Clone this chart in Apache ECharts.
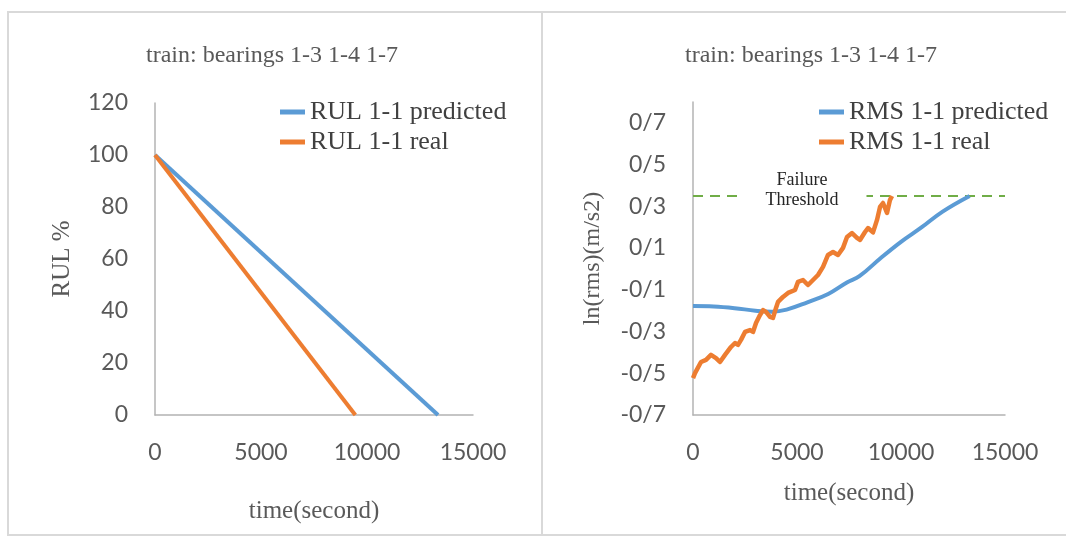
<!DOCTYPE html>
<html>
<head>
<meta charset="utf-8">
<title>Bearing RUL and RMS</title>
<script src="https://cdn.jsdelivr.net/npm/echarts@6/dist/echarts.min.js"></script>
<style>
  html, body { margin: 0; padding: 0; background: #ffffff; }
  #chart { width: 1066px; height: 541px; }
</style>
</head>
<body>
<div id="chart"></div>
<script>
// Titles and legend names
const panelTitle = 'train: bearings 1-3 1-4 1-7';
const rulNames = ['RUL 1-1 predicted', 'RUL 1-1 real'];
const rmsNames = ['RMS 1-1 predicted', 'RMS 1-1 real'];

// Remaining useful life (%) against time (s)
const rulPredicted = [[0, 100], [13350, 0]];
const rulReal = [[0, 100], [9450, 0]];

// ln(rms) against time (s)
const rmsPredicted = [
  [0, -0.178], [1000, -0.180], [2000, -0.188], [3000, -0.200], [3800, -0.205],
  [4500, -0.195], [5500, -0.160], [6500, -0.120], [7400, -0.065], [8000, -0.035],
  [9000, 0.050], [10000, 0.130], [11000, 0.200], [12000, 0.275], [13300, 0.350]
];
const rmsReal = [
  [0, -0.523], [96, -0.499], [385, -0.446], [625, -0.436], [865, -0.412],
  [1106, -0.427], [1298, -0.446], [1539, -0.412], [1827, -0.374], [2019, -0.355],
  [2164, -0.364], [2308, -0.340], [2500, -0.302], [2741, -0.293], [2885, -0.302],
  [3029, -0.259], [3221, -0.221], [3366, -0.197], [3510, -0.206], [3702, -0.230],
  [3846, -0.235], [3991, -0.187], [4087, -0.158], [4327, -0.134], [4568, -0.115],
  [4904, -0.101], [5048, -0.062], [5289, -0.053], [5529, -0.077], [5770, -0.053],
  [6010, -0.029], [6250, 0.010], [6491, 0.067], [6731, 0.081], [6972, 0.067],
  [7212, 0.101], [7404, 0.153], [7645, 0.172], [7885, 0.149], [8029, 0.139],
  [8270, 0.177], [8414, 0.196], [8654, 0.175], [8847, 0.235], [8991, 0.297],
  [9135, 0.316], [9327, 0.268], [9472, 0.331], [9568, 0.350]
];

// Failure threshold level and its annotation anchor
const thresholdLevel = 0.35;
const thresholdSpan = [0, 15000];
const thresholdLabelAt = [5240, 0.35];

// Axis ranges
const timeAxis = { min: 0, max: 15000, interval: 5000 };
const rulAxis = { min: 0, max: 120, interval: 20 };
const rmsAxis = { min: -0.7, max: 0.8, interval: 0.2 };

const BLUE = '#5B9BD5';
const ORANGE = '#ED7D31';
const GREEN = '#70AD47';
const AXIS_GRAY = '#b3b3b3';
const TEXT_GRAY = '#595959';
const SERIF = '"Liberation Serif", "Times New Roman", serif';
const SANS = 'Lato, "Open Sans", sans-serif';

const tickLabel = { color: TEXT_GRAY, fontFamily: SANS, fontSize: 23 };
const axisNameStyle = { color: TEXT_GRAY, fontFamily: SERIF, fontSize: 25 };

function xAxisFor(gridIndex, gap) {
  return {
    type: 'value', gridIndex: gridIndex,
    min: timeAxis.min, max: timeAxis.max, interval: timeAxis.interval,
    name: 'time(second)', nameLocation: 'middle', nameGap: gap,
    nameTextStyle: axisNameStyle,
    axisLine: { show: true, onZero: false, lineStyle: { color: AXIS_GRAY, width: 1.5 } },
    axisTick: { show: false },
    splitLine: { show: false },
    axisLabel: Object.assign({
      margin: 26,
      formatter: function (v) { return String(v); }
    }, tickLabel)
  };
}

const chart = echarts.init(document.getElementById('chart'), null, { renderer: 'canvas' });

const legendText = { fontFamily: SERIF, fontSize: 26, color: '#404040', lineHeight: 24 };

chart.setOption({
  backgroundColor: '#ffffff',
  animation: false,
  graphic: [
    { type: 'rect', shape: { x: 8, y: 12, width: 534, height: 523 },
      style: { fill: 'none', stroke: '#d9d9d9', lineWidth: 2 }, silent: true },
    { type: 'rect', shape: { x: 542, y: 12, width: 540, height: 523 },
      style: { fill: 'none', stroke: '#d9d9d9', lineWidth: 2 }, silent: true }
  ],
  title: [
    { text: panelTitle, left: 267, top: 39, textAlign: 'center',
      textStyle: { fontFamily: SERIF, fontSize: 24, fontWeight: 'normal', color: TEXT_GRAY } },
    { text: panelTitle, left: 806, top: 39, textAlign: 'center',
      textStyle: { fontFamily: SERIF, fontSize: 24, fontWeight: 'normal', color: TEXT_GRAY } }
  ],
  legend: [
    { data: rulNames, orient: 'vertical', left: 280, top: 99, padding: 0,
      icon: 'rect', itemWidth: 25, itemHeight: 5, itemGap: 4,
      textStyle: legendText },
    { data: rmsNames, orient: 'vertical', left: 819, top: 99, padding: 0,
      icon: 'rect', itemWidth: 25, itemHeight: 5, itemGap: 4,
      textStyle: legendText }
  ],
  grid: [
    { left: 155, top: 103, width: 318, height: 312 },
    { left: 693, top: 102, width: 312, height: 313 }
  ],
  xAxis: [xAxisFor(0, 84), xAxisFor(1, 66)],
  yAxis: [
    {
      type: 'value', gridIndex: 0,
      min: rulAxis.min, max: rulAxis.max, interval: rulAxis.interval,
      name: 'RUL %', nameLocation: 'middle', nameGap: 80,
      nameTextStyle: axisNameStyle,
      axisLine: { show: true, lineStyle: { color: AXIS_GRAY, width: 1.5 } },
      axisTick: { show: false },
      splitLine: { show: false },
      axisLabel: Object.assign({ margin: 27 }, tickLabel)
    },
    {
      type: 'value', gridIndex: 1,
      min: rmsAxis.min, max: rmsAxis.max, interval: rmsAxis.interval,
      name: 'ln(rms)(m/s2)', nameLocation: 'middle', nameGap: 88,
      nameTextStyle: Object.assign({}, axisNameStyle, { fontSize: 24 }),
      axisLine: { show: true, onZero: false, lineStyle: { color: AXIS_GRAY, width: 1.5 } },
      axisTick: { show: false },
      splitLine: { show: false },
      axisLabel: Object.assign({
        margin: 27,
        showMaxLabel: false,
        formatter: function (v) { return v.toFixed(1).replace('.', '/'); }
      }, tickLabel)
    }
  ],
  series: [
    { name: rulNames[0], type: 'line', xAxisIndex: 0, yAxisIndex: 0,
      data: rulPredicted, showSymbol: false, color: BLUE,
      lineStyle: { color: BLUE, width: 4 } },
    { name: rulNames[1], type: 'line', xAxisIndex: 0, yAxisIndex: 0,
      data: rulReal, showSymbol: false, color: ORANGE,
      lineStyle: { color: ORANGE, width: 4 } },
    { name: rmsNames[0], type: 'line', xAxisIndex: 1, yAxisIndex: 1,
      data: rmsPredicted, showSymbol: false, smooth: 0.4, color: BLUE,
      lineStyle: { color: BLUE, width: 4 } },
    { name: rmsNames[1], type: 'line', xAxisIndex: 1, yAxisIndex: 1,
      data: rmsReal, showSymbol: false, color: ORANGE,
      lineStyle: { color: ORANGE, width: 4.5, join: 'round' } },
    { name: 'Failure Threshold', type: 'line', xAxisIndex: 1, yAxisIndex: 1,
      data: thresholdSpan.map(function (t) { return [t, thresholdLevel]; }),
      showSymbol: false, z: 1,
      lineStyle: { color: GREEN, width: 2, type: [10, 7] },
      markPoint: {
        symbol: 'rect', symbolSize: 1,
        itemStyle: { color: 'rgba(0,0,0,0)' },
        label: {
          show: true, position: 'inside', offset: [0, -6],
          formatter: 'Failure\nThreshold',
          fontFamily: SERIF, fontSize: 18, lineHeight: 20, color: '#262626',
          backgroundColor: '#ffffff', padding: [0, 28]
        },
        data: [{ coord: thresholdLabelAt }]
      }
    }
  ]
});
</script>
</body>
</html>
